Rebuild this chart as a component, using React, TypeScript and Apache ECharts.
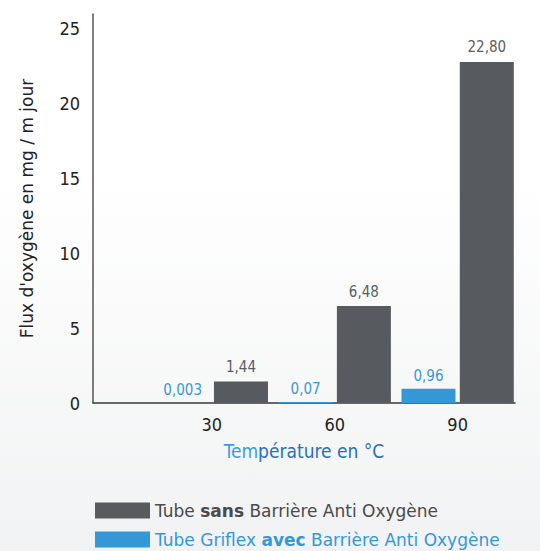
import React, { useEffect, useRef } from "react";
import * as echarts from "echarts";

const temperatures = [30, 60, 90];
const sansValues = [1.44, 6.48, 22.8];
const avecValues = [0.003, 0.07, 0.96];
const seriesNames = ["Tube sans Barrière Anti Oxygène", "Tube Griflex avec Barrière Anti Oxygène"];
const legendTexts = ["Tube {b|sans} Barrière Anti Oxygène", "Tube Griflex {b|avec} Barrière Anti Oxygène"];
const yTicks = [0, 5, 10, 15, 20, 25];

const COND = '"DejaVu Sans Condensed", "Liberation Sans Narrow", "Roboto", sans-serif';
const WIDE = '"DejaVu Sans", "Open Sans", sans-serif';
const DARK = "#575a5f";
const BLUE = "#3598d6";

function fmt(v: number): string {
  let s = v.toFixed(3);
  if (s.endsWith("0")) s = s.slice(0, -1);
  return s.replace(".", ",");
}

function legendFor(i: number, top: number, color: string) {
  return {
    orient: "horizontal",
    left: 90,
    top,
    itemWidth: 55,
    itemHeight: 16,
    icon: "rect",
    data: [{ name: seriesNames[i] }],
    formatter: () => legendTexts[i],
    textStyle: {
      color,
      fontFamily: WIDE,
      fontSize: 17,
      rich: { b: { fontWeight: "bold", fontFamily: WIDE, fontSize: 17, color } },
    },
  };
}

export default function App() {
  const ref = useRef<HTMLDivElement>(null);
  useEffect(() => {
    if (!ref.current) return;
    const chart = echarts.init(ref.current, null, { renderer: "svg" });
    chart.setOption({
      animation: false,
      grid: { left: 93, right: 25, top: 14, bottom: 148 },
      xAxis: {
        type: "value",
        min: 1,
        max: 104,
        name: "{a|Tem}{b|pérature en °C}",
        nameLocation: "middle",
        nameGap: 38,
        nameTextStyle: {
          fontFamily: COND,
          fontSize: 19,
          rich: {
            a: { color: "#3d9be0", fontFamily: COND, fontSize: 19 },
            b: { color: "#2a6fb8", fontFamily: COND, fontSize: 19 },
          },
        },
        axisLine: { show: true, lineStyle: { color: "#3a3a3a", width: 1.5 } },
        axisTick: { show: false },
        splitLine: { show: false },
        axisLabel: {
          customValues: temperatures,
          margin: 12,
          color: "#222",
          fontFamily: COND,
          fontSize: 18,
        },
      },
      yAxis: {
        type: "value",
        min: 0,
        max: 26,
        interval: 5,
        name: "Flux d'oxygène en mg / m jour",
        nameLocation: "middle",
        nameGap: 58,
        nameTextStyle: { color: "#222", fontFamily: WIDE, fontSize: 17 },
        axisLine: { show: true, lineStyle: { color: "#555", width: 1.5 } },
        axisTick: { show: false },
        splitLine: { show: false },
        axisLabel: {
          margin: 13,
          color: "#222",
          fontFamily: COND,
          fontSize: 18,
          formatter: (v: number) => (yTicks.includes(v) ? String(v) : ""),
        },
      },
      legend: [legendFor(0, 497, "#4a4a4a"), legendFor(1, 526, BLUE)],
      series: [
        {
          name: seriesNames[1],
          type: "bar",
          barWidth: 54,
          barGap: "8%",
          itemStyle: { color: BLUE },
          label: {
            show: true,
            position: "top",
            distance: 5,
            color: "#3a97d6",
            fontFamily: COND,
            fontSize: 15,
            formatter: (p: any) => fmt(p.value[1]),
          },
          data: temperatures.map((t, i) => [t, avecValues[i]]),
        },
        {
          name: seriesNames[0],
          type: "bar",
          barWidth: 54,
          barGap: "8%",
          itemStyle: { color: DARK },
          label: {
            show: true,
            position: "top",
            distance: 7,
            color: "#5b5e63",
            fontFamily: COND,
            fontSize: 15,
            formatter: (p: any) => fmt(p.value[1]),
          },
          data: temperatures.map((t, i) => [t, sansValues[i]]),
        },
      ],
    });
    return () => chart.dispose();
  }, []);
  return (
    <div
      style={{
        position: "fixed",
        left: 0,
        top: 0,
        width: 540,
        height: 551,
        background: "linear-gradient(to bottom, #ffffff 0%, #ffffff 32%, #f1f2f3 100%)",
      }}
    >
      <div ref={ref} style={{ width: 540, height: 551 }} />
    </div>
  );
}
